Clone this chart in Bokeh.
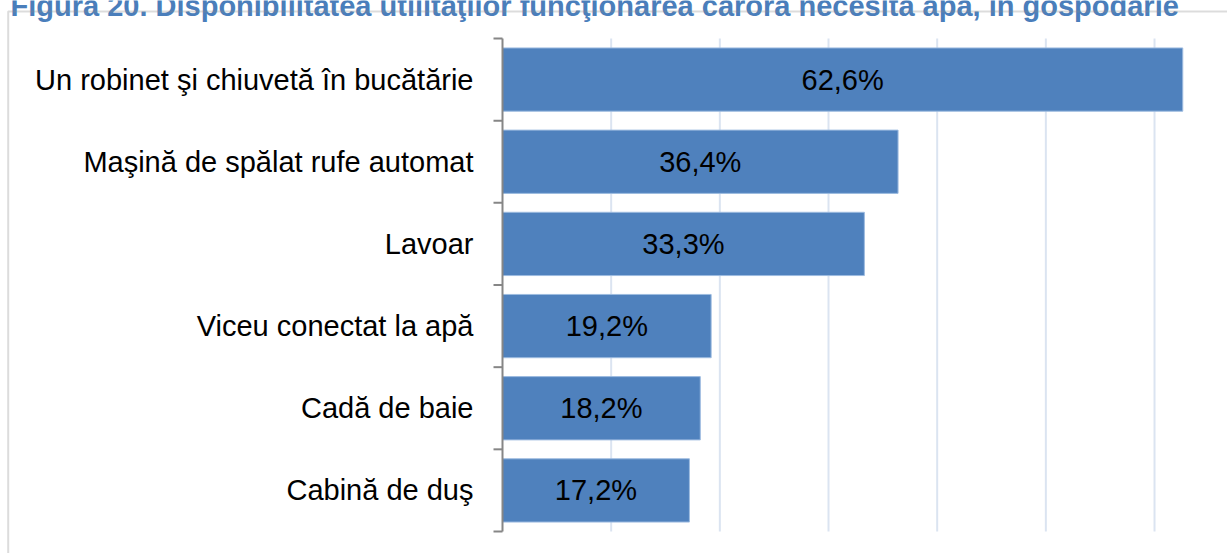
import math
from bokeh.plotting import figure
from bokeh.models import ColumnDataSource, Range1d, Label, BoxAnnotation
from bokeh.core.properties import value
from bokeh.embed import file_html
from bokeh.resources import INLINE

# ---- data ----
categories = [
    "Un robinet şi chiuvetă în bucătărie",
    "Maşină de spălat rufe automat",
    "Lavoar",
    "Viceu conectat la apă",
    "Cadă de baie",
    "Cabină de duş",
]
values = [62.6, 36.4, 33.3, 19.2, 18.2, 17.2]
title_text = "Figura 20. Disponibilitatea utilităţilor funcţionarea cărora necesită apă, în gospodărie"
grid_ticks = [10, 20, 30, 40, 50, 60]

# ---- geometry (canvas px) ----
W, H = 1227, 553
FL, FT, FB = 502, 38, 531      # plot-area left, top, bottom
PX_PER_UNIT = 10.867           # horizontal px per percentage point
n = len(categories)
ys = (FB - FT) / n


def px_x(px):
    return (px - FL) / PX_PER_UNIT


def px_y(py):
    return n - (py - FT) / ys


ypos = [n - 0.5 - i for i in range(n)]
bounds = list(range(n + 1))
labels = [f"{v:.1f}%".replace(".", ",") for v in values]
src = ColumnDataSource(dict(y=ypos, v=values, half=[v / 2 for v in values], lab=labels, cat=categories))

# the plot frame covers the whole canvas, so the clipped title and the outer border can be drawn
p = figure(width=W, height=H, output_backend="svg", toolbar_location=None,
           x_range=Range1d(px_x(0), px_x(W)), y_range=Range1d(px_y(H), px_y(0)),
           x_axis_location=None, y_axis_location=None, min_border=0)
p.outline_line_color = None
p.background_fill_color = "white"
p.border_fill_color = "white"
p.xgrid.visible = False
p.ygrid.visible = False

GRAY = "#868686"
FONT = "Liberation Sans"

# vertical gridlines (inside the plot area only)
p.segment(x0=grid_ticks, y0=[0] * len(grid_ticks), x1=grid_ticks, y1=[n] * len(grid_ticks),
          line_color="#dbe4f1", line_width=2)

# bars
p.hbar(y="y", right="v", left=0, height=0.77, source=src,
       fill_color="#4f81bd", line_color="#9dbbe0", line_width=1)

# value labels
p.text(x="half", y="y", text="lab", source=src,
       text_font=value(FONT), text_font_size="29px",
       text_align="center", text_baseline="middle", text_color="black")

# category axis: line, boundary ticks, labels
p.segment(x0=[0], y0=[0], x1=[0], y1=[n], line_color=GRAY, line_width=2)
p.ray(x=[0] * len(bounds), y=bounds, length=9, length_units="screen", angle=math.pi,
      line_color=GRAY, line_width=2)
p.text(x=[0] * n, y=ypos, text=categories, x_offset=-29,
       text_font=value(FONT), text_font_size="29px",
       text_align="right", text_baseline="middle", text_color="black")

# clipped title at the top edge
p.add_layout(Label(x=px_x(10), y=px_y(5), text=title_text,
                   text_font=FONT, text_font_style="bold", text_font_size="29px",
                   text_color="#4a7ebb", text_baseline="alphabetic", text_align="left"))

# outer border (only its left and top edges are inside the picture)
p.add_layout(BoxAnnotation(left=px_x(7.7), right=px_x(W + 60), top=px_y(11), bottom=px_y(H + 60),
                           fill_alpha=0, line_color="#8c8c8c", line_width=2))

open("out.html", "w").write(file_html(p, INLINE))
